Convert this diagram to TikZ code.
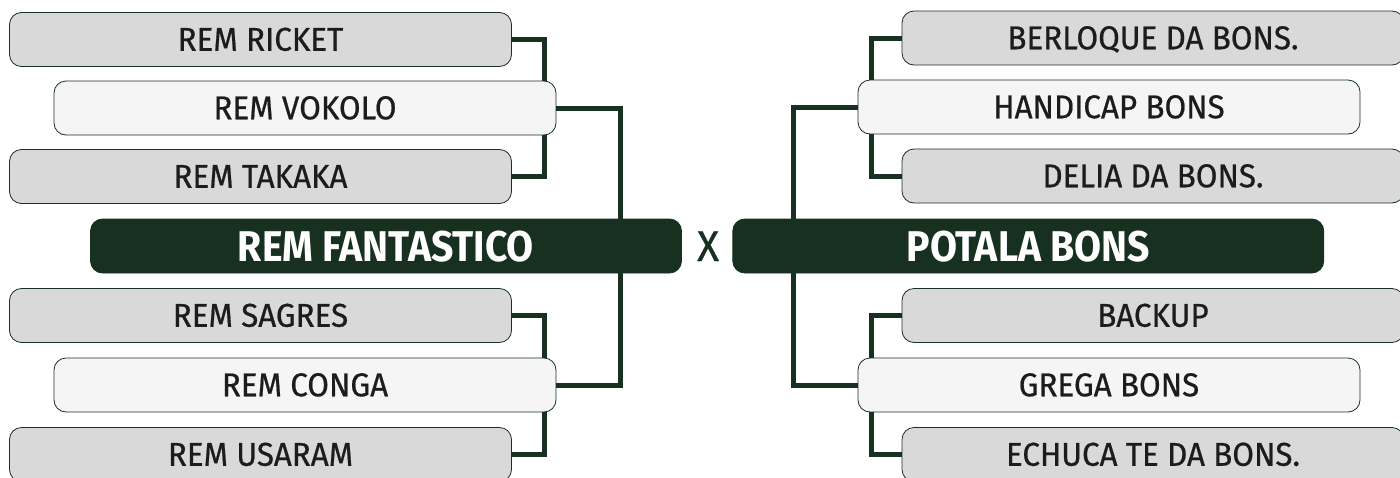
\documentclass[tikz,border=0pt]{standalone}
\usepackage{fontspec}
\setmainfont{Fira Sans}[FakeStretch=0.95, FakeBold=0.6]
\newfontfamily\teamfont{Fira Sans}[FakeStretch=0.91]
\usetikzlibrary{positioning}
\definecolor{darkgreen}{HTML}{17301F}
\definecolor{boxgray}{HTML}{D9D9D9}
\definecolor{boxwhite}{HTML}{F5F5F5}
\definecolor{textgray}{HTML}{1C1C1C}

\begin{document}
\begin{tikzpicture}[x=1pt, y=-1pt,
block/.style = {rectangle, rounded corners=12pt, draw=darkgreen, line width=0.8pt, minimum height=54pt, minimum width=502pt, inner sep=0pt, text height=22.5pt, text depth=0pt, text=textgray, font=\fontsize{33}{33}\selectfont},
greyblock/.style = {block, fill=boxgray},
whiteblock/.style = {block, fill=boxwhite},
teamblock/.style = {block, fill=darkgreen, text=white, minimum width=591pt, text height=30pt, font=\teamfont\fontsize{43}{43}\selectfont\bfseries},
link/.style = {draw=darkgreen, line width=5pt}
]
\useasboundingbox (0,0) rectangle (1400,477);

% left team
\node (ricket)[greyblock] at (260.5,39.5) {REM RICKET};
\node (vokolo)[whiteblock] at (305,108) {REM VOKOLO};
\node (takaka)[greyblock] at (260.5,176.5) {REM TAKAKA};
\node (fantastico)[teamblock] at (386,246) {REM FANTASTICO};
\node (sagres)[greyblock] at (260.5,315.5) {REM SAGRES};
\node (conga)[whiteblock] at (305,385) {REM CONGA};
\node (usaram)[greyblock] at (260.5,454.5) {REM USARAM};

\node (versus)[right=15pt of fantastico, inner sep=0pt, text height=30pt, text depth=0pt, text=darkgreen, font=\fontsize{43}{43}\selectfont] {X};

% right team
\node (potala)[teamblock, right=13pt of versus] {POTALA BONS};
\node (berloque)[greyblock] at (1153,38) {BERLOQUE DA BONS.};
\node (handicap)[whiteblock] at (1109,107) {HANDICAP BONS};
\node (delia)[greyblock] at (1153,176) {DELIA DA BONS.};
\node (backup)[greyblock] at (1153,315.5) {BACKUP};
\node (grega)[whiteblock] at (1109,385) {GREGA BONS};
\node (echuca)[greyblock] at (1153,454.5) {ECHUCA TE DA BONS.};

\draw[link] (ricket.east) -| ([xshift=-12pt]vokolo.north east);
\draw[link] (takaka.east) -| ([xshift=-12pt]vokolo.south east);
\draw[link] (vokolo.east) -| ([xshift=-61pt]fantastico.north east);
\draw[link] (conga.east) -| ([xshift=-61pt]fantastico.south east);
\draw[link] (sagres.east) -| ([xshift=-12pt]conga.north east);
\draw[link] (usaram.east) -| ([xshift=-12pt]conga.south east);

\draw[link] (berloque.west) -| ([xshift=14pt]handicap.north west);
\draw[link] (delia.west) -| ([xshift=14pt]handicap.south west);
\draw[link] (handicap.west) -| ([xshift=61pt]potala.north west);
\draw[link] (grega.west) -| ([xshift=61pt]potala.south west);
\draw[link] (backup.west) -| ([xshift=14pt]grega.north west);
\draw[link] (echuca.west) -| ([xshift=14pt]grega.south west);

\end{tikzpicture}
\end{document}
